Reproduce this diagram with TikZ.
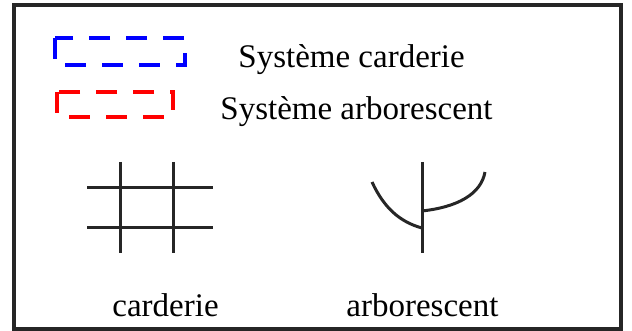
\documentclass[tikz,border=0pt]{standalone}
\usepackage{fontspec}
\setmainfont{Liberation Serif}
\usetikzlibrary{positioning}

\begin{document}
\begin{tikzpicture}[x=0.5pt,y=-0.5pt,
		lbl/.style={anchor=base west, inner sep=0pt, font=\fontsize{16.5}{20}\selectfont},
		legend/.style={line width=2pt, dash pattern=on 10.5pt off 8pt},
		stroke/.style={line width=1.5pt, color=black!85}]
		\useasboundingbox (0,0) rectangle (632,331);
		\draw [line width=2pt, color=black!85] (14,5) rectangle (621,329);

		% legend
		\draw [legend, blue] (55,38) rectangle (185,65);
		\draw [legend, red] (57,92) rectangle (173,117);
		\node [lbl] (sysc) at (238,68) {Système carderie};
		\node [lbl] (sysa) at (220,120) {Système arborescent};

		% carderie
		\draw [stroke] (120,162) -- (120,253);
		\draw [stroke] (173,162) -- (173,253);
		\draw [stroke] (87,188) -- (213,188);
		\draw [stroke] (87,228) -- (213,228);

		% arborescent
		\draw [stroke] (422,162) -- (422,253);
		\draw [stroke] (372,182) .. controls (384,208) and (400,222) .. (422,228);
		\draw [stroke] (422,211) .. controls (458,207) and (481,194) .. (485,172);

		\node [lbl] (labc) at (112,317) {carderie};
		\node [lbl] (laba) at (346,317) {arborescent};
	\end{tikzpicture}
\end{document}
